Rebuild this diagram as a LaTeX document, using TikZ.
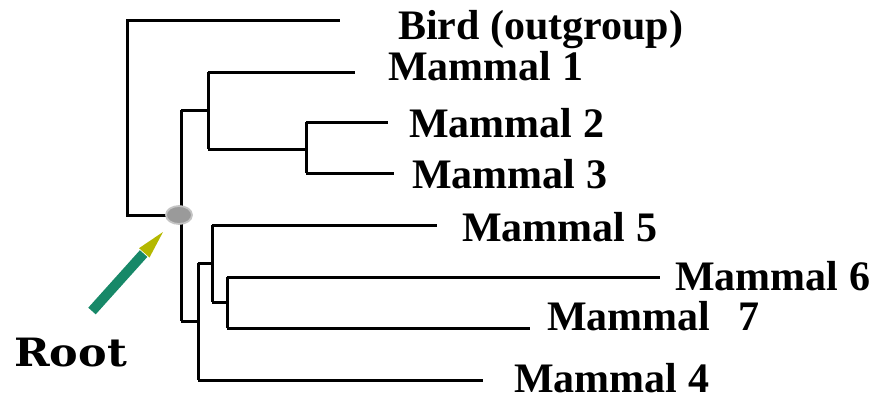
\documentclass[tikz,border=0pt]{standalone}
\usepackage{fontspec}
\setmainfont{Liberation Serif}
\newfontfamily\rootfont{DejaVu Serif}
\usetikzlibrary{calc,shapes.geometric}
\definecolor{rootfill}{HTML}{9A9A9A}
\definecolor{rootrim}{HTML}{C4C4C4}
\definecolor{shaftcol}{HTML}{178868}
\definecolor{headcol}{HTML}{B4B800}
\tikzset{
  branch/.style={draw=black, line width=3pt, line join=miter},
  taxon/.style={anchor=base west, inner sep=0pt,
    font=\fontsize{42}{50}\selectfont\bfseries},
  rootnode/.style={ellipse, draw=rootrim, fill=rootfill, line width=1.8pt,
    minimum width=26pt, minimum height=18pt, inner sep=0pt},
}
\begin{document}
\begin{tikzpicture}[x=1pt,y=-1pt]
\path[use as bounding box] (0,0) rectangle (880,400);

% internal nodes of the tree
\coordinate (top)  at (181,110);
\coordinate (bot)  at (181,321);
\coordinate (ob)   at (127,215);
\coordinate (ot)   at (127,20);
\coordinate (A)    at (208,110);
\coordinate (A1)   at (208,72);
\coordinate (A2)   at (208,149);
\coordinate (B)    at (306,149);
\coordinate (B1)   at (306,122);
\coordinate (B2)   at (306,173);
\coordinate (C)    at (198,321);
\coordinate (C1)   at (198,263);
\coordinate (C2)   at (198,380);
\coordinate (D)    at (212,263);
\coordinate (D1)   at (212,225);
\coordinate (D2)   at (212,302);
\coordinate (E)    at (227,302);
\coordinate (E1)   at (227,277);
\coordinate (E2)   at (227,328);

% leaf ends
\coordinate (lbird) at (340,20);
\coordinate (lm1)   at (355,72);
\coordinate (lm2)   at (388,122);
\coordinate (lm3)   at (394,173);
\coordinate (lm5)   at (437,225);
\coordinate (lm6)   at (660,277);
\coordinate (lm7)   at (530,328);
\coordinate (lm4)   at (483,380);

% outgroup
\draw[branch] (181,215) -- (ob) -- (ot) -- (lbird);
% stem through the root
\draw[branch] (top) -- (bot);
% upper clade
\draw[branch] (top) -- (A);
\draw[branch] (A1) -- (A2);
\draw[branch] (A1) -- (lm1);
\draw[branch] (A2) -- (B);
\draw[branch] (B1) -- (B2);
\draw[branch] (B1) -- (lm2);
\draw[branch] (B2) -- (lm3);
% lower clade
\draw[branch] (bot) -- (C);
\draw[branch] (C1) -- (C2);
\draw[branch] (C2) -- (lm4);
\draw[branch] (C1) -- (D);
\draw[branch] (D1) -- (D2);
\draw[branch] (D1) -- (lm5);
\draw[branch] (D2) -- (E);
\draw[branch] (E1) -- (E2);
\draw[branch] (E1) -- (lm6);
\draw[branch] (E2) -- (lm7);

% root marker
\node[rootnode] (root) at (179,215) {};

% leaf labels
\node[taxon] (tbird) at (398,39)  {Bird (outgroup)};
\node[taxon] (tm1)   at (388,80)  {Mammal 1};
\node[taxon] (tm2)   at (409,137) {Mammal 2};
\node[taxon] (tm3)   at (412,188) {Mammal 3};
\node[taxon] (tm5)   at (462,241) {Mammal 5};
\node[taxon] (tm6)   at (675,290) {Mammal 6};
\node[taxon] (tm7)   at (547,330) {Mammal\ \ \,7};
\node[taxon] (tm4)   at (514,392) {Mammal 4};

% pointer to the root
\node[anchor=base west, inner sep=0pt, xscale=1.1,
      font=\rootfont\fontsize{39}{46}\selectfont\bfseries] (troot) at (14,366) {Root};
\coordinate (tail) at (92,311);
\coordinate (tip)  at (163,232);
\coordinate (hbase) at ($(tip)!28pt!(tail)$);
\draw[shaftcol, line width=10pt] (tail) -- ($(hbase)!-1pt!(tip)$);
\fill[headcol] (tip) -- ($(hbase)!7pt!90:(tip)$) -- ($(hbase)!7pt!-90:(tip)$) -- cycle;
\end{tikzpicture}
\end{document}
